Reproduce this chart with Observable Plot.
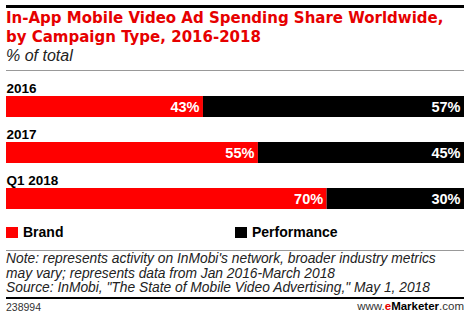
<!DOCTYPE html>
<html>
<head>
<meta charset="utf-8">
<script src="https://cdn.jsdelivr.net/npm/d3@7"></script>
<script src="https://cdn.jsdelivr.net/npm/@observablehq/plot@0.6"></script>
<style>
  body { margin: 0; background: #fff; font-family: "Liberation Sans", Arial, sans-serif; }
  #wrap { position: relative; width: 470px; height: 321px; overflow: hidden; }
  .abs { position: absolute; }
  .rule { position: absolute; left: 6px; width: 458px; }
  #title { left: 6px; top: 9px; font-family: "DejaVu Sans", sans-serif; font-weight: bold; font-size: 15px; line-height: 19px; color: #e60000; white-space: nowrap; }
  #subtitle { left: 6px; top: 47px; font-style: italic; font-size: 16px; color: #222; }
  #chart { left: 0; top: 72px; }
  .leg { top: 224px; font-weight: bold; font-size: 14px; display: flex; align-items: center; white-space: nowrap; }
  .sw { width: 12px; height: 11px; display: inline-block; margin-right: 5px; }
  #note { left: 6px; top: 252px; font-style: italic; font-size: 13.8px; line-height: 14.5px; color: #222; white-space: nowrap; }
  #id { left: 6px; top: 301px; font-size: 10.5px; color: #333; }
  #brand { right: 6px; top: 300px; font-size: 11.5px; color: #333; }
</style>
</head>
<body>
<div id="wrap">
  <div class="rule" style="top:5px;height:3px;background:#000"></div>
  <div id="title" class="abs">In-App Mobile Video Ad Spending Share Worldwide,<br>by Campaign Type, 2016-2018</div>
  <div id="subtitle" class="abs">% of total</div>
  <div class="rule" style="top:70px;height:1px;background:#999"></div>
  <div id="chart" class="abs"></div>
  <div id="legend"></div>
  <div class="rule" style="top:250px;height:1px;background:#999"></div>
  <div id="note" class="abs">Note: represents activity on InMobi's network, broader industry metrics<br>may vary; represents data from Jan 2016-March 2018<br>Source: InMobi, "The State of Mobile Video Advertising," May 1, 2018</div>
  <div class="rule" style="top:297px;height:2px;background:#000"></div>
  <div id="id" class="abs">238994</div>
  <div id="brand" class="abs">www.<b style="color:#e60000">e</b><b style="color:#000">Marketer</b>.com</div>
</div>
<script>
const years = ["2016", "2017", "Q1 2018"];
const types = ["Brand", "Performance"];
const brand = [43, 55, 70];
const performance = [57, 45, 30];
const colors = ["#ff0000", "#000000"];

const rows = [];
years.forEach((y, i) => {
  rows.push({year: y, type: "Brand", value: brand[i], end: brand[i]});
  rows.push({year: y, type: "Performance", value: performance[i], end: brand[i] + performance[i]});
});

const chart = Plot.plot({
  width: 470,
  height: 142,
  marginLeft: 6,
  marginRight: 6,
  marginTop: 0,
  marginBottom: 0,
  x: {domain: [0, 100], axis: null},
  y: {domain: years, range: [23, 138], paddingInner: 0.553, paddingOuter: 0, axis: null},
  color: {domain: types, range: colors},
  style: {fontFamily: "Liberation Sans, Arial, sans-serif"},
  marks: [
    Plot.barX(rows, Plot.stackX({x: "value", y: "year", fill: "type", order: types})),
    Plot.text(rows, {x: "end", y: "year", text: d => d.value + "%", textAnchor: "end", dx: -4, fill: "#fff", fontWeight: "bold", fontSize: 14.5}),
    Plot.text(years, {x: 0, y: d => d, text: d => d, frameAnchor: "left", textAnchor: "start", dy: -18, fill: "#000", fontWeight: "bold", fontSize: 13.5})
  ]
});
document.getElementById("chart").appendChild(chart);

const legend = document.getElementById("legend");
const legPos = [6, 235];
types.forEach((t, i) => {
  const d = document.createElement("div");
  d.className = "abs leg";
  d.style.left = legPos[i] + "px";
  d.innerHTML = `<span class="sw" style="background:${colors[i]}"></span>${t}`;
  legend.appendChild(d);
});
</script>
</body>
</html>
